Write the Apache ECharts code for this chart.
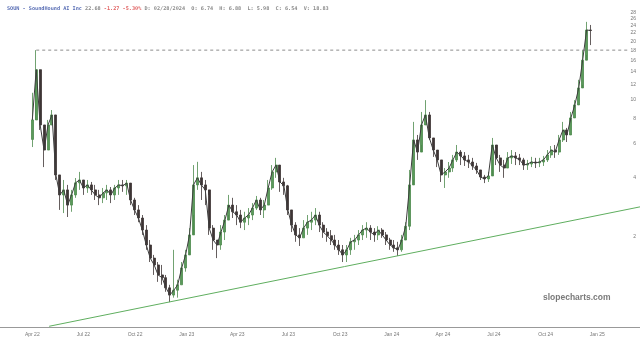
<!DOCTYPE html>
<html>
<head>
<meta charset="utf-8">
<script src="https://cdn.jsdelivr.net/npm/echarts@6/dist/echarts.min.js"></script>
<style>
html,body{margin:0;padding:0;background:#fff;}
#show_char{width:640px;height:342px;}
</style>
</head>
<body>
<div id="show_char"></div>
<script>
// weekly bars (price in $)
var weekDates = [
 '2022-04-01','2022-04-08','2022-04-15','2022-04-22','2022-04-29','2022-05-06','2022-05-13','2022-05-20','2022-05-27',
 '2022-06-03','2022-06-10','2022-06-17','2022-06-24','2022-07-01','2022-07-08','2022-07-15','2022-07-22','2022-07-29',
 '2022-08-05','2022-08-12','2022-08-19','2022-08-26','2022-09-02','2022-09-09','2022-09-16','2022-09-23','2022-09-30',
 '2022-10-07','2022-10-14','2022-10-21','2022-10-28','2022-11-04','2022-11-11','2022-11-18','2022-11-25',
 '2022-12-02','2022-12-09','2022-12-16','2022-12-23','2022-12-30',
 '2023-01-06','2023-01-13','2023-01-20','2023-01-27','2023-02-03','2023-02-10','2023-02-17','2023-02-24',
 '2023-03-03','2023-03-10','2023-03-17','2023-03-24','2023-03-31','2023-04-07','2023-04-14','2023-04-21','2023-04-28',
 '2023-05-05','2023-05-12','2023-05-19','2023-05-26','2023-06-02','2023-06-09','2023-06-16','2023-06-23','2023-06-30',
 '2023-07-07','2023-07-14','2023-07-21','2023-07-28','2023-08-04','2023-08-11','2023-08-18','2023-08-25',
 '2023-09-01','2023-09-08','2023-09-15','2023-09-22','2023-09-29','2023-10-06','2023-10-13','2023-10-20','2023-10-27',
 '2023-11-03','2023-11-10','2023-11-17','2023-11-24','2023-12-01','2023-12-08','2023-12-15','2023-12-22','2023-12-29',
 '2024-01-05','2024-01-12','2024-01-19','2024-01-26','2024-02-02','2024-02-09','2024-02-16','2024-02-23',
 '2024-03-01','2024-03-08','2024-03-15','2024-03-22','2024-03-29','2024-04-05','2024-04-12','2024-04-19','2024-04-26',
 '2024-05-03','2024-05-10','2024-05-17','2024-05-24','2024-05-31','2024-06-07','2024-06-14','2024-06-21','2024-06-28',
 '2024-07-05','2024-07-12','2024-07-19','2024-07-26','2024-08-02','2024-08-09','2024-08-16','2024-08-23','2024-08-30',
 '2024-09-06','2024-09-13','2024-09-20','2024-09-27','2024-10-04','2024-10-11','2024-10-18','2024-10-25',
 '2024-11-01','2024-11-08','2024-11-15','2024-11-22','2024-11-29','2024-12-06','2024-12-13','2024-12-20'
];
var firstOpen = 6.3;
var highs = [
 10.9,18.0,13.8,7.47,7.92,8.9,7.92,4.15,3.91,3.69,3.48,4.0,4.30,3.91,3.91,3.82,3.69,3.48,3.56,3.69,
 3.60,3.69,3.91,3.91,3.91,3.77,3.17,2.91,2.59,2.30,1.93,1.62,1.49,1.44,1.28,1.14,1.72,1.21,1.49,1.72,
 2.22,4.66,4.84,4.30,3.91,3.28,2.30,1.93,2.30,2.59,3.28,3.17,2.91,2.75,2.69,2.81,2.98,3.24,3.17,3.09,
 3.91,4.66,5.07,4.40,4.01,3.69,2.75,2.38,2.22,2.44,2.59,2.69,2.81,2.69,2.38,2.22,2.17,2.05,1.93,1.82,
 1.82,1.98,2.05,2.17,2.30,2.38,2.30,2.22,2.27,2.22,2.12,1.98,1.93,1.89,2.05,2.38,4.40,7.74,6.64,8.70,
 10.0,8.70,6.41,5.56,4.95,4.50,4.83,5.25,5.90,5.56,5.43,5.25,5.07,4.78,4.40,4.15,4.30,6.41,5.70,5.25,
 4.95,5.43,5.56,5.43,5.31,5.07,4.95,5.13,5.07,5.07,5.19,5.56,5.83,5.90,6.64,7.74,7.21,8.70,10.0,12.7,
 18.0,25.1,24.2
];
var lows = [
 5.76,12.2,7.04,4.55,5.56,7.47,3.91,2.75,2.65,2.53,2.69,3.17,3.48,3.28,3.36,3.28,3.09,2.91,2.98,3.09,
 2.98,3.09,3.28,3.40,3.28,2.91,2.59,2.38,2.05,1.72,1.49,1.28,1.18,1.14,1.05,0.93,0.98,0.98,1.14,1.33,
 1.68,2.59,3.48,3.09,2.91,2.05,1.72,1.56,1.72,1.93,2.59,2.50,2.30,2.22,2.17,2.30,2.44,2.75,2.59,2.50,
 2.91,3.48,4.01,3.40,3.28,2.59,2.12,1.89,1.80,1.98,2.05,2.17,2.30,2.12,1.98,1.89,1.82,1.72,1.62,1.49,
 1.49,1.62,1.72,1.82,1.93,1.98,1.93,1.89,1.93,1.98,1.82,1.72,1.68,1.60,1.68,1.98,2.17,3.91,4.95,5.90,
 7.47,6.26,5.13,4.55,3.82,3.56,4.01,4.30,4.83,4.66,4.61,4.50,4.40,4.20,3.91,3.77,3.82,4.95,4.66,4.30,
 4.01,4.50,4.72,4.66,4.66,4.40,4.40,4.55,4.50,4.55,4.61,4.83,5.07,5.07,5.25,6.11,6.11,6.64,8.11,9.45,
 11.95,17.0,19.1
];
var closes = [
 7.92,14.3,7.47,5.56,7.47,8.4,4.15,3.28,3.48,2.91,3.28,3.78,3.91,3.56,3.69,3.48,3.28,3.17,3.36,3.48,
 3.28,3.56,3.69,3.65,3.77,3.09,2.75,2.50,2.17,1.82,1.56,1.44,1.28,1.24,1.10,1.01,1.07,1.14,1.39,1.62,
 2.05,3.69,4.01,3.69,3.48,2.22,1.93,1.82,2.12,2.44,2.91,2.69,2.59,2.38,2.50,2.59,2.81,3.09,2.75,2.91,
 3.56,4.30,4.66,3.82,3.65,2.75,2.30,2.05,1.98,2.22,2.38,2.44,2.59,2.30,2.12,2.03,1.93,1.82,1.72,1.62,
 1.72,1.89,1.93,2.05,2.17,2.22,2.12,2.05,2.17,2.05,1.93,1.82,1.76,1.72,1.93,2.27,3.69,6.26,5.43,7.47,
 8.4,6.41,5.56,4.95,4.15,4.30,4.50,4.95,5.43,5.19,4.95,4.83,4.61,4.40,4.05,3.96,4.10,5.90,5.07,4.66,
 4.50,5.07,5.19,5.07,4.95,4.66,4.72,4.83,4.78,4.83,4.95,5.25,5.56,5.43,6.26,7.04,6.64,8.11,9.45,11.54,
 16.0,22.8,22.68
];

// price axis (log scale) labels and x axis quarter labels
var priceTicks = [2,4,6,8,10,12,14,16,18,20,22,24,26,28];
var quarterTicks = ['2022-04-01','2022-07-01','2022-10-01','2023-01-01','2023-04-01','2023-07-01',
                    '2023-10-01','2024-01-01','2024-04-01','2024-07-01','2024-10-01','2025-01-01'];
var priceRange = [0.69, 30.6];
var dateRange = ['2022-02-02T12:00:00Z', '2025-03-18T02:00:00Z'];

// drawn lines (date, price)
var trendLine = [['2022-05-01', 0.70], ['2025-03-18T02:00:00Z', 2.85]];
var highLine = [['2022-04-08', 18.0], ['2025-02-25', 18.0]];

var monthNames = ['Jan','Feb','Mar','Apr','May','Jun','Jul','Aug','Sep','Oct','Nov','Dec'];

function ts(s){
    if (s.length == 10) s = s + 'T00:00:00Z';
    return new Date(s).getTime();
}

buildChart();

function buildChart(){
    var candles = [];
    var closeLine = [];
    var prevClose = firstOpen;
    for (var i = 0; i < weekDates.length; i++) {
        candles.push([ts(weekDates[i]), Math.log(prevClose), Math.log(closes[i]), Math.log(lows[i]), Math.log(highs[i])]);
        closeLine.push([ts(weekDates[i]), Math.log(closes[i])]);
        prevClose = closes[i];
    }
    var toPts = function(arr){
        return arr.map(function(p){ return [ts(p[0]), Math.log(p[1])]; });
    };

    var option = {
        animation: false,
        title: {
            left: 2,
            top: 1,
            text: '{a|SOUN - SoundHound AI Inc} {b|22.68} {c|-1.27 -5.30%} {b|D: 02/28/2024  O: 6.74  H: 6.88  L: 5.98  C: 6.54  V: 18.83}',
            textStyle: {
                fontSize: 5.2,
                fontFamily: 'DejaVu Sans Mono',
                rich: {
                    a: {color: '#5a6fb5', fontSize: 5.2, fontFamily: 'DejaVu Sans Mono'},
                    b: {color: '#8a8a8a', fontSize: 5.2, fontFamily: 'DejaVu Sans Mono'},
                    c: {color: '#e06060', fontSize: 5.2, fontFamily: 'DejaVu Sans Mono'}
                }
            }
        },
        grid: {left: 0, right: 0, top: 5, bottom: 14.5},
        xAxis: {
            type: 'value',
            min: ts(dateRange[0]),
            max: ts(dateRange[1]),
            axisLine: {show: true, onZero: false, lineStyle: {color: '#999', width: 1}},
            axisTick: {show: false},
            splitLine: {show: false},
            axisLabel: {
                customValues: quarterTicks.map(ts),
                fontSize: 5,
                color: '#777',
                margin: 5,
                formatter: function(v){
                    var d = new Date(v);
                    return monthNames[d.getUTCMonth()] + ' ' + String(d.getUTCFullYear()).slice(2);
                }
            }
        },
        yAxis: {
            type: 'value',
            position: 'right',
            min: Math.log(priceRange[0]),
            max: Math.log(priceRange[1]),
            axisLine: {show: false},
            axisTick: {show: false},
            splitLine: {show: false},
            axisLabel: {
                inside: true,
                customValues: priceTicks.map(function(v){ return Math.log(v); }),
                fontSize: 5,
                color: '#777',
                margin: 4,
                formatter: function(v){ return Math.round(Math.exp(v)); }
            }
        },
        graphic: [{
            type: 'text',
            left: 543,
            top: 293,
            style: {
                text: 'slopecharts.com',
                font: 'bold 8.5px "Liberation Sans"',
                fill: '#7a7a7a'
            }
        }],
        series: [
            {
                name: 'high',
                type: 'line',
                silent: true,
                symbol: 'none',
                data: toPts(highLine),
                lineStyle: {color: '#8c8c8c', width: 1, type: [3, 3]}
            },
            {
                name: 'trend',
                type: 'line',
                silent: true,
                symbol: 'none',
                data: toPts(trendLine),
                lineStyle: {color: '#5fae5f', width: 1}
            },
            {
                name: 'close',
                type: 'line',
                silent: true,
                symbol: 'none',
                data: closeLine,
                lineStyle: {color: '#3d3d3d', width: 1}
            },
            {
                name: 'SOUN',
                type: 'candlestick',
                barWidth: 2.5,
                data: candles,
                itemStyle: {
                    color: '#5b9a5b',
                    color0: '#3d3535',
                    borderColor: '#4d8a4d',
                    borderColor0: '#3d3535',
                    borderWidth: 0.8
                }
            }
        ]
    };

    var myChart = echarts.init(document.getElementById('show_char'));
    myChart.setOption(option);
}
</script>
</body>
</html>
